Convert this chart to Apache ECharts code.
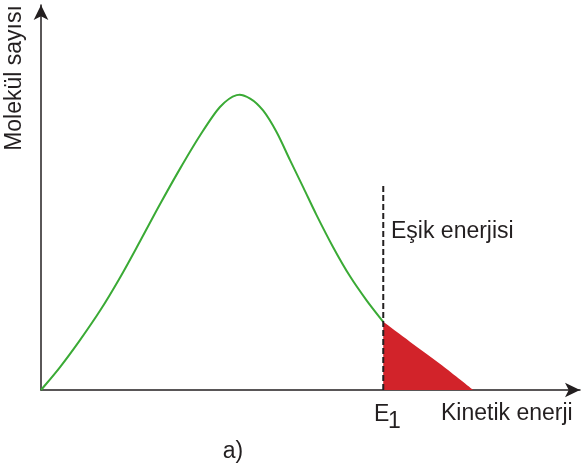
<!DOCTYPE html>
<html><head><meta charset="utf-8">
<script src="https://cdn.jsdelivr.net/npm/echarts@6/dist/echarts.min.js"></script>
<style>html,body{margin:0;padding:0;background:#fff}#c{width:582px;height:476px}</style>
</head><body><div id="c"></div>
<script>
// Maxwell–Boltzmann style curve (energy, molecule count), arbitrary units
const curveX = [0, 0.35, 0.72, 1.10, 1.47, 1.84, 2.21, 2.58, 2.95, 3.32, 3.63, 3.88, 4.12, 4.37, 4.62, 4.87, 5.11, 5.42, 5.73, 6.04, 6.35];
const curveY = [0, 0.59, 1.29, 2.07, 2.93, 3.87, 4.83, 5.75, 6.61, 7.35, 7.66, 7.57, 7.26, 6.70, 5.97, 5.25, 4.55, 3.71, 2.96, 2.33, 1.77];
// tail beyond threshold (shaded)
const tailX = [6.35, 6.85, 7.40, 8.02];
const tailY = [1.77, 1.25, 0.68, 0];
const threshold = 6.35;
const thresholdTop = 5.32;
const labels = {y: 'Molekül sayısı', x: 'Kinetik enerji', thr: 'Eşik enerjisi', e: 'E', sub: '1', fig: 'a)'};

const zip = (a, b) => a.map((v, i) => [v, b[i]]);

// Catmull-Rom -> cubic bezier path through pixel points
function splinePath(pts) {
  const n = pts.length;
  let d = 'M' + pts[0][0] + ',' + pts[0][1];
  for (let i = 0; i < n - 1; i++) {
    const p0 = pts[Math.max(i - 1, 0)], p1 = pts[i], p2 = pts[i + 1], p3 = pts[Math.min(i + 2, n - 1)];
    const c1 = [p1[0] + (p2[0] - p0[0]) / 6, p1[1] + (p2[1] - p0[1]) / 6];
    const c2 = [p2[0] - (p3[0] - p1[0]) / 6, p2[1] - (p3[1] - p1[1]) / 6];
    d += ' C' + c1[0] + ',' + c1[1] + ' ' + c2[0] + ',' + c2[1] + ' ' + p2[0] + ',' + p2[1];
  }
  return d;
}

const chart = echarts.init(document.getElementById('c'), null, {renderer: 'canvas'});
const axisCommon = {
  type: 'value', min: 0, max: 10,
  axisLine: {show: true, symbol: ['none', 'arrow'], symbolSize: [11, 15], lineStyle: {color: '#231f20', width: 1.5}},
  axisTick: {show: false}, axisLabel: {show: false}, splitLine: {show: false}
};
const font = 'Liberation Sans, Arial, Helvetica, sans-serif';
const txt = (x, y, s, opts) => Object.assign({type: 'text', x: x, y: y, style: Object.assign({text: s, font: '23px ' + font, fill: '#231f20'}, opts || {})});
chart.setOption({
  animation: false,
  grid: {left: 41, right: 2, top: 5, bottom: 86},
  xAxis: axisCommon,
  yAxis: axisCommon,
  series: [
    {
      type: 'custom', z: 1, data: zip(tailX, tailY),
      renderItem: function (params, api) {
        if (params.dataIndex !== 0) return null;
        const pts = tailX.map((x, i) => api.coord([x, tailY[i]]));
        const base = api.coord([threshold, 0]);
        const d = splinePath(pts) + ' L' + base[0] + ',' + base[1] + ' Z';
        return {type: 'path', shape: {pathData: d}, style: {fill: '#d2232a', stroke: null}};
      }
    },
    {
      type: 'custom', z: 2, data: zip(curveX, curveY),
      renderItem: function (params, api) {
        if (params.dataIndex !== 0) return null;
        const pts = curveX.map((x, i) => api.coord([x, curveY[i]]));
        return {type: 'path', shape: {pathData: splinePath(pts)}, style: {fill: 'none', stroke: '#3aaa35', lineWidth: 2}};
      }
    },
    {type: 'line', z: 3, data: [[threshold, 0], [threshold, thresholdTop]], symbol: 'none', lineStyle: {color: '#231f20', width: 2, type: [6, 3]}}
  ],
  graphic: [
    {type: 'text', x: 15, y: 78, rotation: Math.PI / 2, style: {text: labels.y, font: '23px ' + font, fill: '#231f20', textAlign: 'center', textVerticalAlign: 'middle'}},
    txt(391, 232, labels.thr, {textVerticalAlign: 'middle'}),
    txt(441, 414, labels.x, {textVerticalAlign: 'middle'}),
    txt(374, 415, labels.e, {textVerticalAlign: 'middle'}),
    txt(388, 422, labels.sub, {textVerticalAlign: 'middle'}),
    txt(233, 452, labels.fig, {textAlign: 'center', textVerticalAlign: 'middle'})
  ]
});
</script></body></html>
